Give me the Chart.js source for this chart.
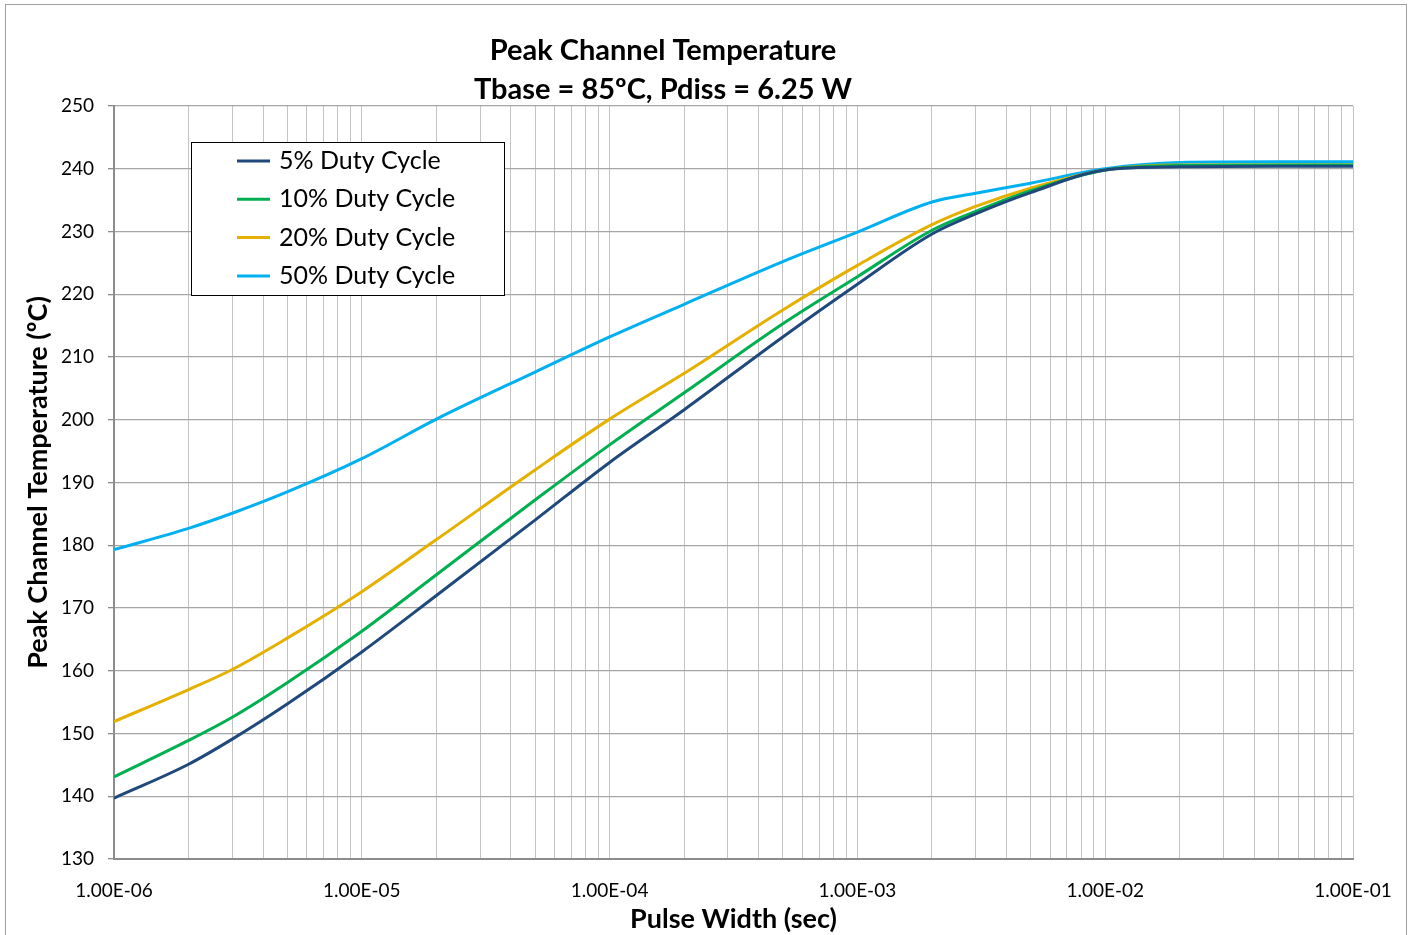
<!DOCTYPE html>
<html>
<head>
<meta charset="utf-8">
<script src="https://cdn.jsdelivr.net/npm/chart.js@4.4.1/dist/chart.umd.min.js"></script>
<style>
  html, body { margin: 0; padding: 0; background: #fff; }
  #wrap { width: 1413px; height: 935px; }
</style>
</head>
<body>
<div id="wrap"><canvas id="chart" width="1413" height="935"></canvas></div>
<script>
// pulse width (sec)
const pulseWidths = [1e-6, 2e-6, 3e-6, 5e-6, 1e-5, 2e-5, 5e-5, 1e-4, 2e-4, 5e-4, 1e-3, 2e-3, 3e-3, 5e-3, 1e-2, 2e-2, 5e-2, 1e-1];

// peak channel temperature (°C) per duty cycle
const duty5 = [139.7, 145.1, 149.1, 154.7, 163.0, 172.0, 184.0, 193.2, 201.6, 213.2, 221.6, 229.6, 232.8, 236.2, 239.8, 240.3, 240.4, 240.4];
const duty10 = [143.1, 148.9, 152.6, 158.1, 166.3, 175.3, 187.2, 196.0, 204.3, 215.3, 222.8, 230.2, 233.2, 236.5, 239.8, 240.5, 240.6, 240.6];
const duty20 = [151.9, 157.0, 160.2, 165.2, 172.6, 180.9, 192.0, 200.1, 207.4, 217.5, 224.6, 231.1, 234.0, 236.9, 239.8, 240.6, 240.6, 240.6];
const duty50 = [179.3, 182.7, 185.1, 188.5, 193.8, 200.1, 207.6, 213.2, 218.4, 225.2, 229.9, 234.7, 236.1, 237.7, 240.0, 241.0, 241.1, 241.1];

const seriesLabels = ["5% Duty Cycle", "10% Duty Cycle", "20% Duty Cycle", "50% Duty Cycle"];
const seriesColors = ["#1F497D", "#00B050", "#E6B000", "#00B0F0"];

const titleLines = ["Peak Channel Temperature", "Tbase = 85ºC, Pdiss = 6.25 W"];
const yTicks = [130, 140, 150, 160, 170, 180, 190, 200, 210, 220, 230, 240, 250];

const FONT = "Lato, 'Open Sans', sans-serif";

function toPoints(values) {
    return values.map((v, i) => ({ x: pulseWidths[i], y: v }));
}

function sciLabel(v) {
    const exp = Math.round(Math.log10(v));
    const sign = exp < 0 ? "-" : "+";
    const digits = String(Math.abs(exp)).padStart(2, "0");
    return "1.00E" + sign + digits;
}

function isDecade(v) {
    const l = Math.log10(v);
    return Math.abs(l - Math.round(l)) < 1e-9;
}

// title, legend box and outer frame
const decorPlugin = {
    id: "decor",
    afterDraw(chart) {
        const ctx = chart.ctx;
        ctx.save();

        ctx.strokeStyle = "#a0a0a0";
        ctx.lineWidth = 1;
        ctx.strokeRect(5.5, 4.5, 1401, 940);

        ctx.fillStyle = "#000";
        ctx.font = "bold 29px " + FONT;
        ctx.textAlign = "center";
        ctx.textBaseline = "middle";
        ctx.fillText(titleLines[0], 663, 51);
        ctx.fillText(titleLines[1], 663, 90);

        // legend
        ctx.fillStyle = "#fff";
        ctx.fillRect(191, 142, 313, 153);
        ctx.strokeStyle = "#000";
        ctx.lineWidth = 1;
        ctx.strokeRect(191.5, 142.5, 313, 153);

        ctx.font = "25px " + FONT;
        ctx.textAlign = "left";
        chart.data.datasets.forEach((ds, i) => {
            const y = 161 + i * 38.3;
            ctx.strokeStyle = ds.borderColor;
            ctx.lineWidth = 3;
            ctx.beginPath();
            ctx.moveTo(237, y);
            ctx.lineTo(270, y);
            ctx.stroke();
            ctx.fillStyle = "#000";
            ctx.fillText(ds.label, 279, y);
        });

        ctx.restore();
    },
};

const datasets = [duty5, duty10, duty20, duty50].map((vals, i) => ({
    label: seriesLabels[i],
    data: toPoints(vals),
    borderColor: seriesColors[i],
    backgroundColor: seriesColors[i],
    borderWidth: 3,
    pointRadius: 0,
    cubicInterpolationMode: "monotone",
    fill: false,
}));

new Chart(document.getElementById("chart").getContext("2d"), {
    type: "line",
    data: { datasets: datasets },
    options: {
        responsive: false,
        animation: false,
        layout: {
            padding: { top: 106, right: 60, bottom: 0, left: 0 },
        },
        plugins: {
            legend: { display: false },
            tooltip: { enabled: false },
        },
        scales: {
            x: {
                type: "logarithmic",
                min: 1e-6,
                max: 1e-1,
                afterBuildTicks(scale) {
                    const ticks = [];
                    for (let e = -6; e <= -2; e++) {
                        for (let m = 1; m <= 9; m++) {
                            ticks.push({ value: m * Math.pow(10, e) });
                        }
                    }
                    ticks.push({ value: 1e-1 });
                    scale.ticks = ticks;
                },
                afterFit(scale) {
                    scale.height = 76;
                },
                border: { color: "#8c8c8c", width: 2 },
                grid: {
                    color: "#c4c4c4",
                    lineWidth: 1,
                    drawTicks: false,
                },
                ticks: {
                    autoSkip: false,
                    maxRotation: 0,
                    padding: 20,
                    color: "#000",
                    font: { family: FONT, size: 19 },
                    callback(value) {
                        return isDecade(value) ? sciLabel(value) : "";
                    },
                },
                title: {
                    display: true,
                    text: "Pulse Width (sec)",
                    color: "#000",
                    font: { family: FONT, size: 27, weight: "bold" },
                    padding: { top: 1, bottom: 0 },
                },
            },
            y: {
                min: 130,
                max: 250,
                afterBuildTicks(scale) {
                    scale.ticks = yTicks.map((v) => ({ value: v }));
                },
                afterFit(scale) {
                    scale.width = 114;
                },
                border: { color: "#8c8c8c", width: 2 },
                grid: {
                    color: "#a6a6a6",
                    lineWidth: 1.3,
                    tickLength: 6,
                    tickColor: "#8c8c8c",
                },
                ticks: {
                    padding: 14,
                    color: "#000",
                    font: { family: FONT, size: 19 },
                },
                title: {
                    display: true,
                    text: "Peak Channel Temperature (ºC)",
                    color: "#000",
                    font: { family: FONT, size: 27, weight: "bold" },
                    padding: { top: 22, bottom: 0 },
                },
            },
        },
    },
    plugins: [decorPlugin],
});
</script>
</body>
</html>
